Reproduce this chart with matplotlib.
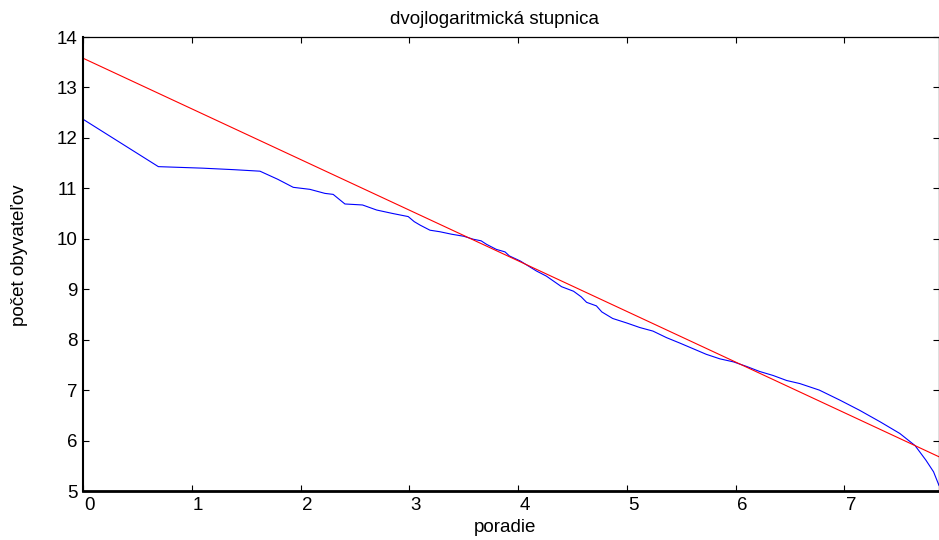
import numpy as np
import matplotlib
matplotlib.use("Agg")
import matplotlib.pyplot as plt
import matplotlib.transforms as mtransforms

plt.rcParams['font.family'] = ['Liberation Sans', 'DejaVu Sans']

# blue series: ln(rank) vs ln(population)
log_rank = [0.0, 0.693, 1.099, 1.386, 1.627, 1.79, 1.933, 2.086, 2.224, 2.30,
            2.408, 2.57, 2.70, 2.85, 2.99, 3.045, 3.10, 3.19, 3.28, 3.39,
            3.50, 3.59, 3.66, 3.71, 3.80, 3.88, 3.92, 4.02, 4.11, 4.17,
            4.26, 4.34, 4.40, 4.51, 4.58, 4.63, 4.72, 4.77, 4.87, 5.00,
            5.12, 5.24, 5.365, 5.49, 5.61, 5.73, 5.855, 5.98, 6.10, 6.22,
            6.345, 6.47, 6.59, 6.77, 6.96, 7.14, 7.33, 7.51, 7.65, 7.75,
            7.82, 7.87]
log_pop = [12.37, 11.43, 11.40, 11.37, 11.34, 11.18, 11.02, 10.98, 10.90, 10.88,
           10.69, 10.67, 10.57, 10.50, 10.44, 10.34, 10.27, 10.17, 10.14, 10.09,
           10.05, 9.99, 9.96, 9.89, 9.79, 9.74, 9.66, 9.56, 9.44, 9.36,
           9.26, 9.14, 9.05, 8.96, 8.85, 8.74, 8.67, 8.55, 8.42, 8.33,
           8.24, 8.17, 8.04, 7.93, 7.82, 7.71, 7.62, 7.56, 7.47, 7.37,
           7.29, 7.19, 7.13, 7.00, 6.80, 6.60, 6.37, 6.14, 5.90, 5.61,
           5.38, 5.11]

# red fitted line coefficients
fit_intercept = 13.58
fit_slope = -1.004

x_limits = [0, 7.87]
y_limits = [5, 14]
x_ticks = [0, 1, 2, 3, 4, 5, 6, 7]
y_ticks = [5, 6, 7, 8, 9, 10, 11, 12, 13, 14]

FS = 13.5
fig = plt.figure(figsize=(9.39, 5.40), dpi=100)
ax = fig.add_axes([83/939, 1-491/540, 1-83/939, (491-37)/540])

ax.plot(log_rank, log_pop, color=(0, 0, 1), linewidth=0.8)
xf = np.array(x_limits)
ax.plot(xf, fit_intercept + fit_slope * xf, color=(1, 0, 0), linewidth=0.8)

ax.set_xlim(x_limits)
ax.set_ylim(y_limits)
ax.set_xticks(x_ticks)
ax.set_yticks(y_ticks)
ax.tick_params(direction='in', length=4, width=0.8, labelsize=FS, colors='black',
               top=True, right=True)
ax.tick_params(axis='x', pad=4)
ax.tick_params(axis='y', pad=4)
ax.spines['bottom'].set_linewidth(2.0)
ax.spines['left'].set_linewidth(1.5)
ax.spines['top'].set_linewidth(0.9)
ax.spines['right'].set_linewidth(0.9)

# x tick labels sit slightly right of their ticks in the reference
shift = mtransforms.ScaledTranslation(6.5/100, 0, fig.dpi_scale_trans)
for lbl in ax.get_xticklabels():
    lbl.set_transform(lbl.get_transform() + shift)

fig.text(495/939, 1-19/540, 'dvojlogaritmická stupnica', fontsize=FS,
         ha='center', va='center')
fig.text(505/939, 1-527/540, 'poradie', fontsize=FS, ha='center', va='center')
fig.text(20/939, 1-255/540, 'počet obyvateľov', fontsize=FS, ha='center',
         va='center', rotation=90)

fig.savefig('out.png', dpi=100)
